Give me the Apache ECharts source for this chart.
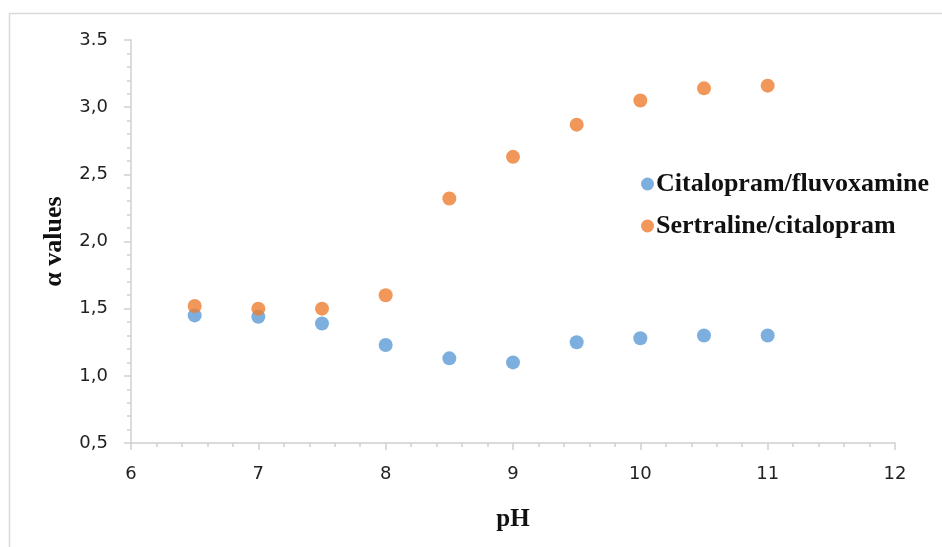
<!DOCTYPE html>
<html>
<head>
<meta charset="utf-8">
<script src="https://cdn.jsdelivr.net/npm/echarts@6/dist/echarts.min.js"></script>
<style>
  html, body { margin: 0; padding: 0; background: #fff; }
  #chart { width: 942px; height: 547px; }
</style>
</head>
<body>
<div id="chart"></div>
<script>
  // data
  var phValues = [6.5, 7, 7.5, 8, 8.5, 9, 9.5, 10, 10.5, 11];
  var citaloFluvo = [1.45, 1.44, 1.39, 1.23, 1.13, 1.10, 1.25, 1.28, 1.30, 1.30];
  var sertraCitalo = [1.52, 1.50, 1.50, 1.60, 2.32, 2.63, 2.87, 3.05, 3.14, 3.16];
  var seriesNames = ['Citalopram/fluvoxamine', 'Sertraline/citalopram'];
  var yTickValues = [0.5, 1.0, 1.5, 2.0, 2.5, 3.0, 3.5];
  var yTickLabels = ['0,5', '1,0', '1,5', '2,0', '2,5', '3,0', '3.5'];

  function pairs(xs, ys) {
    var out = [];
    for (var i = 0; i < xs.length; i++) out.push([xs[i], ys[i]]);
    return out;
  }

  var axisGrey = '#d0d0d0';
  var chart = echarts.init(document.getElementById('chart'));
  chart.setOption({
    animation: false,
    backgroundColor: '#fff',
    graphic: [{
      type: 'rect',
      left: 7, top: 11,
      shape: { width: 1000, height: 600 },
      style: { fill: 'none', stroke: '#d9d9d9', lineWidth: 1.5 },
      silent: true
    }],
    grid: { left: 131, top: 40, right: 47, bottom: 104 },
    legend: {
      orient: 'vertical',
      left: 636, top: 166,
      itemGap: 16,
      itemWidth: 13, itemHeight: 13,
      icon: 'circle',
      data: seriesNames,
      textStyle: { fontFamily: 'Liberation Serif', fontWeight: 'bold', fontSize: 26, color: '#111', padding: [0, 0, 0, -3] }
    },
    xAxis: {
      type: 'value',
      min: 6, max: 12, interval: 1,
      name: 'pH',
      nameLocation: 'middle',
      nameGap: 64,
      nameTextStyle: { fontFamily: 'Liberation Serif', fontWeight: 'bold', fontSize: 25, color: '#111' },
      axisLine: { show: true, lineStyle: { color: axisGrey, width: 1.5 } },
      axisTick: { show: true, length: 7, lineStyle: { color: axisGrey, width: 1.5 } },
      minorTick: { show: true, splitNumber: 5, length: 4, lineStyle: { color: axisGrey, width: 1.5 } },
      splitLine: { show: false },
      axisLabel: { margin: 22, fontFamily: 'DejaVu Sans', fontSize: 18, color: '#222' }
    },
    yAxis: {
      type: 'value',
      min: 0.5, max: 3.5, interval: 0.5,
      name: 'α values',
      nameLocation: 'middle',
      nameGap: 64,
      nameTextStyle: { fontFamily: 'Liberation Serif', fontWeight: 'bold', fontSize: 26, color: '#111' },
      axisLine: { show: true, lineStyle: { color: axisGrey, width: 1.5 } },
      axisTick: { show: true, length: 7, lineStyle: { color: axisGrey, width: 1.5 } },
      minorTick: { show: true, splitNumber: 5, length: 4, lineStyle: { color: axisGrey, width: 1.5 } },
      splitLine: { show: false },
      axisLabel: {
        margin: 23, fontFamily: 'DejaVu Sans', fontSize: 18, color: '#222',
        formatter: function (v) {
          for (var i = 0; i < yTickValues.length; i++) {
            if (Math.abs(yTickValues[i] - v) < 1e-9) return yTickLabels[i];
          }
          return '';
        }
      }
    },
    series: [{
      name: seriesNames[0],
      type: 'scatter',
      symbolSize: 14,
      itemStyle: { color: '#5B9BD5' },
      data: pairs(phValues, citaloFluvo)
    }, {
      name: seriesNames[1],
      type: 'scatter',
      symbolSize: 14,
      itemStyle: { color: '#ED7D31' },
      data: pairs(phValues, sertraCitalo)
    }]
  });
</script>
</body>
</html>
